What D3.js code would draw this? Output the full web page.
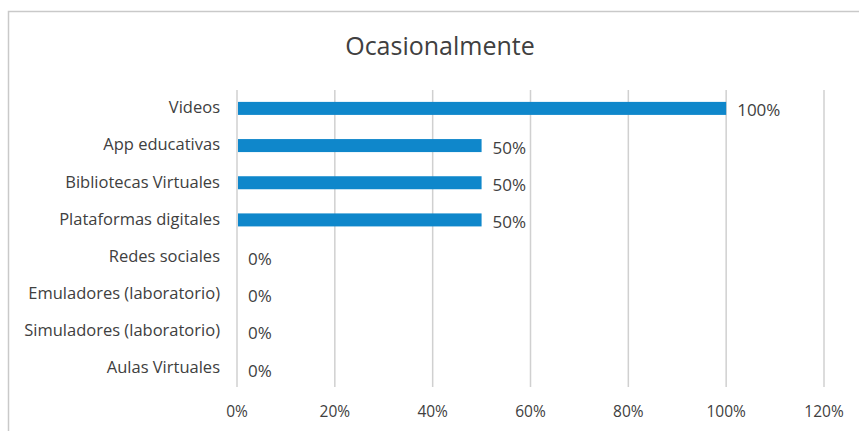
<!DOCTYPE html>
<html>
<head>
<meta charset="utf-8">
<script src="https://cdn.jsdelivr.net/npm/d3@7"></script>
<style>
  body { margin: 0; background: #fff; }
  text { font-family: "Open Sans", "Noto Sans", sans-serif; fill: #404040; }
</style>
</head>
<body>
<svg id="chart"></svg>
<script>
const categories = ['Videos', 'App educativas', 'Bibliotecas Virtuales', 'Plataformas digitales',
  'Redes sociales', 'Emuladores (laboratorio)', 'Simuladores (laboratorio)', 'Aulas Virtuales'];
const values = [1, 0.5, 0.5, 0.5, 0, 0, 0, 0];
const ticks = [0, 0.2, 0.4, 0.6, 0.8, 1, 1.2];
const title = 'Ocasionalmente';

const width = 859, height = 431;
const margin = { top: 90, right: 35, bottom: 44, left: 237 };

const svg = d3.select('#chart')
  .attr('width', width)
  .attr('height', height);

// chart frame
svg.append('rect')
  .attr('x', 8.5).attr('y', 11.5)
  .attr('width', width + 10).attr('height', height + 10)
  .attr('fill', 'none')
  .attr('stroke', '#c9c9c9')
  .attr('stroke-width', 1.5);

const x = d3.scaleLinear()
  .domain([0, 1.2])
  .range([margin.left, 824]);

const y = d3.scaleBand()
  .domain(categories)
  .range([margin.top, height - margin.bottom])
  .paddingInner(0.65)
  .paddingOuter(0.32);

// gridlines
svg.append('g')
  .selectAll('line')
  .data(ticks)
  .join('line')
  .attr('x1', d => x(d)).attr('x2', d => x(d))
  .attr('y1', margin.top).attr('y2', height - margin.bottom)
  .attr('stroke', '#d0d0d0')
  .attr('stroke-width', 1.5);

// bars
svg.append('g')
  .selectAll('rect')
  .data(values)
  .join('rect')
  .attr('x', x(0) + 1)
  .attr('y', (d, i) => y(categories[i]))
  .attr('width', d => Math.max(0, x(d) - x(0) - 1))
  .attr('height', y.bandwidth())
  .attr('fill', '#0f87cb');

// value labels
svg.append('g')
  .selectAll('text')
  .data(values)
  .join('text')
  .attr('x', d => x(d) + 11)
  .attr('y', (d, i) => y(categories[i]) + y.bandwidth() / 2 + 2)
  .attr('dy', '0.35em')
  .attr('font-size', 17)
  .text(d => d3.format('.0%')(d));

// category labels
svg.append('g')
  .selectAll('text')
  .data(categories)
  .join('text')
  .attr('x', 220)
  .attr('y', d => y(d) + y.bandwidth() / 2 - 1)
  .attr('dy', '0.35em')
  .attr('text-anchor', 'end')
  .attr('font-size', 16.5)
  .text(d => d);

// x tick labels
svg.append('g')
  .selectAll('text')
  .data(ticks)
  .join('text')
  .attr('x', d => x(d))
  .attr('y', 417)
  .attr('text-anchor', 'middle')
  .attr('font-size', 15.5)
  .text(d => d3.format('.0%')(d));

svg.append('text')
  .attr('x', 440)
  .attr('y', 55)
  .attr('text-anchor', 'middle')
  .attr('font-size', 25)
  .text(title);
</script>
</body>
</html>
